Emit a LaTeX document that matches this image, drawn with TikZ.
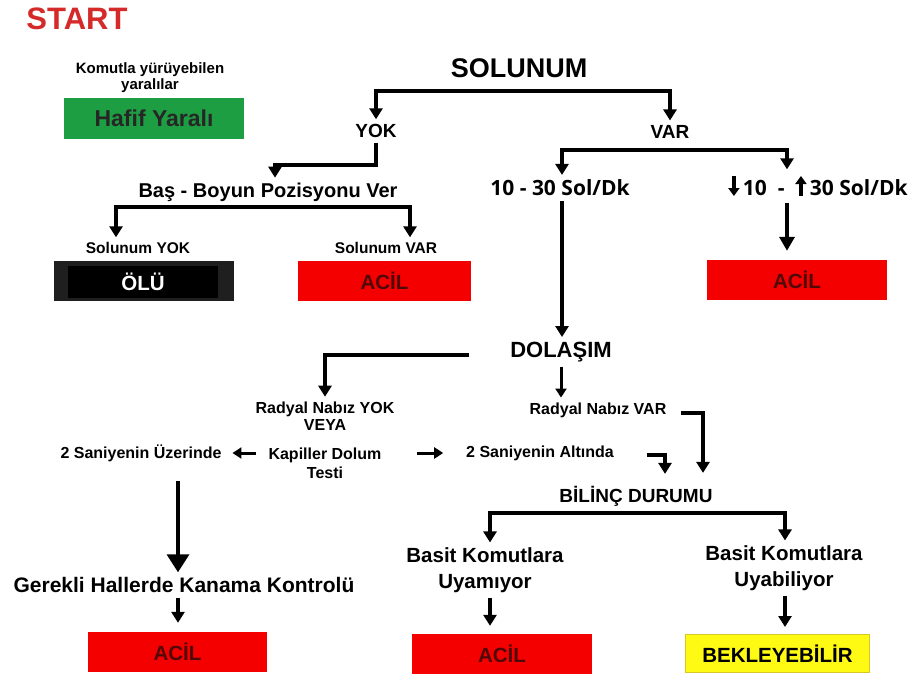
\documentclass[tikz,border=0pt]{standalone}
\usepackage{fontspec}
\setmainfont{Liberation Sans}
\newfontfamily\osans{Open Sans}
\usetikzlibrary{arrows.meta}
\definecolor{cred}{RGB}{245,0,0}
\definecolor{startred}{RGB}{212,42,42}
\definecolor{hgreen}{RGB}{30,158,66}
\definecolor{acildark}{RGB}{80,8,8}
\definecolor{cyel}{RGB}{255,250,20}
\definecolor{cyelb}{RGB}{215,200,40}
\newcommand{\dnarr}{\tikz[x=1pt,y=1pt,baseline=-2pt]\draw[line width=3.4pt,-{Triangle[length=8pt,width=11pt]}] (0,17) -- (0,-3);}
\newcommand{\uparr}{\tikz[x=1pt,y=1pt,baseline=-2pt]\draw[line width=3.4pt,-{Triangle[length=8pt,width=11pt]}] (0,-3) -- (0,17);}
\begin{document}
\begin{tikzpicture}[x=1pt,y=-1pt,
  lbl/.style={font=\bfseries\fontsize{16}{17}\selectfont, align=center, inner sep=1pt, outer sep=4pt},
  box/.style={minimum width=180pt, minimum height=40pt, inner sep=0pt, fill=cred, text=acildark,
     font=\bfseries\fontsize{20.5}{24}\selectfont},
  arr/.style={line width=3.6pt, -{Triangle[length=11pt,width=13pt]}},
  arrS/.style={line width=3pt, -{Triangle[length=9pt,width=11pt]}},
  arrB/.style={line width=3.6pt, -{Triangle[length=18pt,width=22pt]}},
  arrD/.style={line width=3.6pt, {Triangle[length=11pt,width=13pt]}-{Triangle[length=11pt,width=13pt]}}
]
\useasboundingbox[fill=white] (0,0) rectangle (915,675);

% nodes
\node[font=\bfseries\fontsize{31}{33}\selectfont, text=startred] (start) at (77,19) {START};
\node[lbl, font=\bfseries\fontsize{15}{16}\selectfont] (kom) at (150,78) {Komutla yürüyebilen\\yaralılar};
\node[box, fill=hgreen, text=black!85, minimum height=41pt, font=\bfseries\fontsize{23}{26}\selectfont] (hafif) at (154,118.5) {Hafif Yaralı};

\node[lbl, font=\bfseries\fontsize{27}{30}\selectfont] (sol) at (519,68) {SOLUNUM};
\node[lbl, font=\bfseries\fontsize{19}{22}\selectfont] (yok) at (376,131) {YOK};
\node[lbl, font=\bfseries\fontsize{19}{22}\selectfont] (var) at (670,132) {VAR};
\node[lbl, font=\bfseries\fontsize{20}{22}\selectfont] (bas) at (268,192) {Baş - Boyun Pozisyonu Ver};
\node[lbl, font=\bfseries\fontsize{15.5}{17}\selectfont] (sy) at (138,248) {Solunum YOK};
\node[lbl, font=\bfseries\fontsize{15.5}{17}\selectfont] (sv) at (386,248) {Solunum VAR};
\node[box, fill=black!88] (oluframe) at (144,281) {};
\node[box, fill=black, text=white, minimum width=150pt, minimum height=32pt] (olu) at (143,282) {ÖLÜ};
\node[box, minimum width=173pt] (acil1) at (384.5,281) {ACİL};

\node[lbl, font=\osans\bfseries\fontsize{21}{24}\selectfont] (s1) at (560,188) {10 - 30 Sol/Dk};
\node[lbl, font=\osans\bfseries\fontsize{21}{24}\selectfont] (s1b) at (818,186) {\dnarr\,10\ \ -\ \ \uparr\,30 Sol/Dk};
\node[box] (acil2) at (797,280) {ACİL};

\node[lbl, font=\bfseries\fontsize{22}{24}\selectfont] (dol) at (561,352) {DOLAŞIM};
\node[lbl] (ryok) at (325,416) {Radyal Nabız YOK\\VEYA};
\node[lbl, font=\bfseries\fontsize{16}{19}\selectfont] (kap) at (325,463) {Kapiller Dolum\\Testi};
\node[lbl] (rvar) at (598,410) {Radyal Nabız VAR};
\node[lbl] (alt) at (540,453) {2 Saniyenin Altında};
\node[lbl] (uz) at (141,453) {2 Saniyenin Üzerinde};
\node[lbl, font=\bfseries\fontsize{19}{22}\selectfont] (bil) at (636,496) {BİLİNÇ DURUMU};
\node[lbl, font=\bfseries\fontsize{20.5}{26}\selectfont] (bk1) at (485,570) {Basit Komutlara\\Uyamıyor};
\node[lbl, font=\bfseries\fontsize{20.5}{26}\selectfont] (bk2) at (784,568) {Basit Komutlara\\Uyabiliyor};
\node[lbl, font=\bfseries\fontsize{21}{24}\selectfont] (gk) at (184,585) {Gerekli Hallerde Kanama Kontrolü};
\node[box, minimum width=179pt] (acil3) at (177.5,652) {ACİL};
\node[box] (acil4) at (502,654) {ACİL};
\node[box, fill=cyel, draw=cyelb, line width=1pt, text=black, minimum width=184pt, minimum height=38pt] (bek) at (777.5,653.5) {BEKLEYEBİLİR};

% connectors
\coordinate (solb) at (519,91);
\draw[arr] (solb) -| (yok.north);
\draw[arr] (solb) -| (var.north);

\coordinate (yb) at (275,165);
\draw[arr] (yok.south) |- (yb) -- (bas.north -| yb);

\coordinate (bL) at (116,207);
\coordinate (bR) at (410,207);
\draw[arrD] (sy.north -| bL) -- (bL) -- (bR) -- (sv.north -| bR);

\coordinate (vL) at (562,150);
\coordinate (vR) at (787,150);
\draw[arrD] (s1.north -| vL) -- (vL) -- (vR) -- (s1b.north -| vR);
\draw[line width=3.6pt, -{Triangle[length=14pt,width=15pt]}, shorten >=9pt] (s1b.south -| vR) -- (acil2.north -| vR);

\draw[arr] (s1.south -| vL) -- (dol.north -| vL);
\coordinate (dL) at (325,355);
\draw[arr, shorten <=36pt] (dol.west |- dL) -| (ryok.north);
\draw[arrS] (dol.south) -- (rvar.north -| dol.south);

\coordinate (r1) at (703,413);
\draw[arr, shorten <=10pt, shorten >=8pt] (rvar.east |- r1) -- (r1) -- (bil.north -| r1);
\coordinate (a1) at (665,455);
\draw[arr, shorten <=28pt, shorten >=7pt] (alt.east |- a1) -- (a1) -- (bil.north -| a1);

\draw[arrS, shorten <=8pt, shorten >=6pt] (kap.west |- uz.east) -- (uz.east);
\draw[arrS, shorten <=31pt, shorten >=18pt] (kap.east |- alt.west) -- (alt.west);

\coordinate (gx) at (178,600);
\draw[arrB, shorten <=14pt] (uz.south -| gx) -- (gk.north -| gx);
\draw[arr, shorten >=9pt] (gk.south -| gx) -- (acil3.north -| gx);

\coordinate (cL) at (490,513);
\coordinate (cR) at (785,513);
\draw[arrD] (bk1.north -| cL) -- (cL) -- (cR) -- (bk2.north -| cR);
\draw[arr, shorten >=8pt] (bk1.south -| cL) -- (acil4.north -| cL);
\draw[arr, shorten >=7pt] (bk2.south -| cR) -- (bek.north -| cR);
\end{tikzpicture}
\end{document}
